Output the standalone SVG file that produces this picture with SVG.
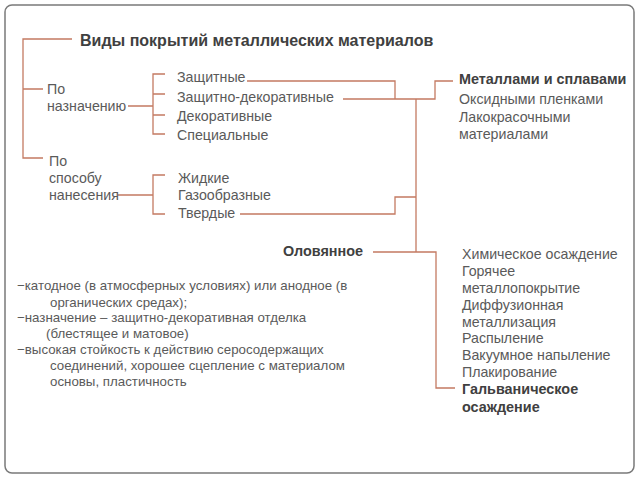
<svg xmlns="http://www.w3.org/2000/svg" width="640" height="480" viewBox="0 0 640 480">
<style>
text{font-family:"Liberation Sans",Arial,sans-serif;font-size:14.2px;fill:#5a5a5a;dominant-baseline:central}
.b{font-weight:bold;fill:#404040;font-size:14.4px}
.t{font-size:16px}
.s{font-size:13.3px}
.c{fill:none;stroke:#c47a62;stroke-width:1.3}
</style>
<rect x="5" y="5" width="629" height="468" rx="7" fill="#fff" stroke="#7a7a7a" stroke-width="1.5"/>
<g id="connectors" class="c">
<path d="M72 39H23V158H43M23 89H43"/>
<path d="M128 106H153M165 74H153V134H165M153 94H165M153 115H165"/>
<path d="M118 195H153M165 175H153V214H165"/>
<path d="M247 81H395V99M343 99H435V81H453"/>
<path d="M416 99V252M416 197H395V214H240"/>
<path d="M373 252H436V388H455"/>
</g>
<g id="title"><text class="b t" x="80" y="40">Виды покрытий металлических материалов</text></g>
<g id="po-naznacheniyu"><text x="47" y="89">По</text><text x="47" y="106">назначению</text></g>
<g id="po-sposobu"><text x="49" y="161">По</text><text x="49" y="178">способу</text><text x="49" y="195">нанесения</text></g>
<g id="vidy1">
<text x="177" y="77">Защитные</text>
<text x="177" y="97">Защитно-декоративные</text>
<text x="177" y="116">Декоративные</text>
<text x="177" y="135">Специальные</text>
</g>
<g id="vidy2">
<text x="178" y="178">Жидкие</text>
<text x="178" y="195">Газообразные</text>
<text x="178" y="213">Твердые</text>
</g>
<g id="materialy">
<text class="b" x="459" y="79">Металлами и сплавами</text>
<text x="459" y="99">Оксидными пленками</text>
<text x="459" y="117">Лакокрасочными</text>
<text x="459" y="134">материалами</text>
</g>
<g id="olovyannoe"><text class="b" x="283" y="251">Оловянное</text></g>
<g id="sposoby">
<text x="462" y="254">Химическое осаждение</text>
<text x="462" y="271">Горячее</text>
<text x="462" y="288">металлопокрытие</text>
<text x="462" y="305">Диффузионная</text>
<text x="462" y="322">металлизация</text>
<text x="462" y="338">Распыление</text>
<text x="462" y="355">Вакуумное напыление</text>
<text x="462" y="372">Плакирование</text>
<text class="b" x="462" y="389">Гальваническое</text>
<text class="b" x="462" y="407">осаждение</text>
</g>
<g id="svoistva">
<text class="s" x="17" y="285">−катодное (в атмосферных условиях) или анодное (в</text>
<text class="s" x="50" y="302">органических средах);</text>
<text class="s" x="17" y="317">−назначение – защитно-декоративная отделка</text>
<text class="s" x="46" y="333">(блестящее и матовое)</text>
<text class="s" x="17" y="349">−высокая стойкость к действию серосодержащих</text>
<text class="s" x="50" y="365">соединений, хорошее сцепление с материалом</text>
<text class="s" x="50" y="381">основы, пластичность</text>
</g>
</svg>
